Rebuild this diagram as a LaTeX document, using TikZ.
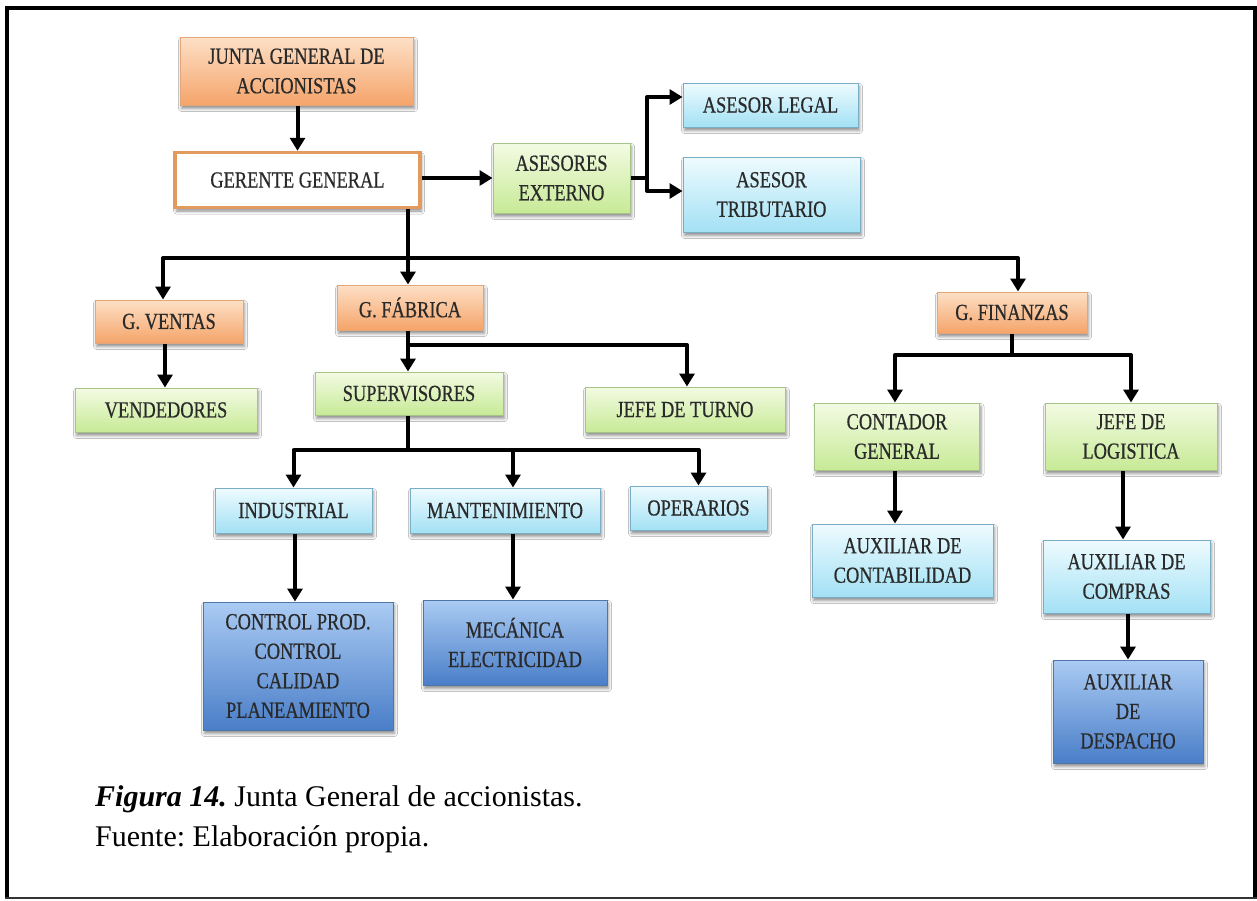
\documentclass[tikz,border=0pt]{standalone}
\usepackage{fontspec}
\setmainfont{Liberation Serif}
\newfontfamily\boxfont[FakeStretch=0.8,FakeBold=0.5]{Liberation Serif}
\usetikzlibrary{arrows.meta,shadows.blur}
\definecolor{orT}{HTML}{FDE0C6}
\definecolor{orB}{HTML}{F5A46A}
\definecolor{orD}{HTML}{E3A57A}
\definecolor{grT}{HTML}{F3FBE3}
\definecolor{grB}{HTML}{C7EA96}
\definecolor{grD}{HTML}{A7C488}
\definecolor{lbT}{HTML}{EEFBFF}
\definecolor{lbB}{HTML}{A3E1F4}
\definecolor{lbD}{HTML}{7AAEC6}
\definecolor{dbT}{HTML}{AACBF3}
\definecolor{dbB}{HTML}{4A7EC8}
\definecolor{dbD}{HTML}{4E76A6}
\definecolor{gerD}{HTML}{E29B5E}
\definecolor{txt}{HTML}{2A2A2A}
\newcommand{\bxfont}{\boxfont\fontsize{23}{29.5}\selectfont}
\newcommand{\capfont}{\fontsize{30}{40}\selectfont\frenchspacing}
\tikzset{
  box/.style={draw, line width=1pt, inner sep=0pt, align=center, font=\bxfont, text=txt,
    blur shadow={shadow xshift=1.5pt, shadow yshift=-3.5pt, shadow blur radius=3pt, shadow opacity=45}},
  obox/.style={box, draw=orD, top color=orT, bottom color=orB},
  gbox/.style={box, draw=grD, top color=grT, bottom color=grB},
  lbox/.style={box, draw=lbD, top color=lbT, bottom color=lbB},
  dbox/.style={box, draw=dbD, top color=dbT, bottom color=dbB},
  wbox/.style={box, draw=gerD, line width=3.5pt, fill=white},
  ln/.style={line width=4pt, black, line join=round},
  arr/.style={ln, -{Triangle[width=15pt,length=13pt]}},
  captext/.style={anchor=base west, inner sep=0pt, font=\capfont}
}
\begin{document}
\begin{tikzpicture}[x=1pt,y=-1pt]
\useasboundingbox (0,0) rectangle (1257,900);
\fill[white] (0,0) rectangle (1257,900);
% frame
\draw[line width=4pt] (7,898) -- (7,7.5) -- (1254.5,7.5) -- (1254.5,898);
\draw[line width=2pt, black!80] (5,898) -- (1257,898);

% nodes
\node[obox, minimum width=233, minimum height=68] (junta) at (296.5,71) {JUNTA GENERAL DE\\ACCIONISTAS};
\node[wbox, minimum width=245, minimum height=55] (gerente) at (297.5,180) {GERENTE GENERAL};
\node[gbox, minimum width=137, minimum height=70] (asesores) at (561.5,178) {ASESORES\\EXTERNO};
\node[lbox, minimum width=175, minimum height=44] (legal) at (770.5,105) {ASESOR LEGAL};
\node[lbox, minimum width=177, minimum height=75] (tribut) at (771.5,194.5) {ASESOR\\TRIBUTARIO};

\node[obox, minimum width=148, minimum height=43] (gventas) at (169,321.5) {G. VENTAS};
\node[obox, minimum width=146, minimum height=45] (gfabrica) at (410,307.5) {G. FÁBRICA};
\node[obox, minimum width=150, minimum height=41] (gfinanzas) at (1012,312.5) {G. FINANZAS};

\node[gbox, minimum width=182, minimum height=44] (vendedores) at (166,410) {VENDEDORES};
\node[gbox, minimum width=188, minimum height=43] (supervisores) at (409,393.5) {SUPERVISORES};
\node[gbox, minimum width=200, minimum height=45] (jefeturno) at (685,409.5) {JEFE DE TURNO};

\node[lbox, minimum width=157, minimum height=45] (industrial) at (293.5,510.5) {INDUSTRIAL};
\node[lbox, minimum width=190, minimum height=45] (manten) at (505,510.5) {MANTENIMIENTO};
\node[lbox, minimum width=137, minimum height=44] (operarios) at (698.5,508) {OPERARIOS};

\node[dbox, minimum width=190, minimum height=128] (control) at (298,666) {CONTROL PROD.\\CONTROL\\CALIDAD\\PLANEAMIENTO};
\node[dbox, minimum width=184, minimum height=85] (mecanica) at (515,642.5) {MECÁNICA\\ELECTRICIDAD};

\node[gbox, minimum width=165, minimum height=67] (contador) at (897,436.5) {CONTADOR\\GENERAL};
\node[gbox, minimum width=172, minimum height=67] (jefelog) at (1131,436.5) {JEFE DE\\LOGISTICA};
\node[lbox, minimum width=181, minimum height=73] (auxcont) at (902.5,560.5) {AUXILIAR DE\\CONTABILIDAD};
\node[lbox, minimum width=167, minimum height=73] (auxcomp) at (1126.5,576.5) {AUXILIAR DE\\COMPRAS};
\node[dbox, minimum width=150, minimum height=103] (auxdesp) at (1128,711.5) {AUXILIAR\\DE\\DESPACHO};

% junction coordinates
\coordinate (bus) at (408,258);
\coordinate (fab) at (408,345);
\coordinate (sup) at (408,450);
\coordinate (fin) at (1012,355);
\coordinate (ase) at (647,178);
\coordinate (ind) at ([xshift=1.5]industrial.south);
\coordinate (man) at ([xshift=8]manten.south);
\coordinate (con) at ([xshift=-2]contador.south);
\coordinate (jlg) at ([xshift=-8]jefelog.south);
\coordinate (acp) at ([xshift=1.5]auxcomp.south);

% connectors
\draw[arr] (junta.south -| gerente.north) -- (gerente.north);
\draw[arr] (gerente.east |- asesores.west) -- (asesores.west);
\draw[ln] (asesores.east) -- (ase);
\draw[arr] (ase) |- ([yshift=8]legal.west);
\draw[arr] (ase) |- ([yshift=3.5]tribut.west);

\draw[ln] (gerente.south -| bus) -- (bus);
\draw[arr] (bus) -| ([xshift=-6]gventas.north);
\draw[arr] (bus) -| ([xshift=6]gfinanzas.north);
\draw[arr] (bus) -- (gfabrica.north -| bus);

\draw[arr] ([xshift=-4]gventas.south) -- ([xshift=-1]vendedores.north);
\draw[arr] (gfabrica.south -| fab) -- (supervisores.north -| fab);
\draw[arr] (fab) -| ([xshift=2]jefeturno.north);

\draw[ln] (supervisores.south -| sup) -- (sup);
\draw[arr] (sup) -| (industrial.north);
\draw[arr] (sup) -| ([xshift=8]manten.north);
\draw[arr] (sup) -| (operarios.north);

\draw[arr] (ind) -- (ind |- control.north);
\draw[arr] (man) -- (man |- mecanica.north);

\draw[ln] (gfinanzas.south) -- (fin);
\draw[arr] (fin) -| ([xshift=-2]contador.north);
\draw[arr] (fin) -| (jefelog.north);
\draw[arr] (con) -- (con |- auxcont.north);
\draw[arr] (jlg) -- (jlg |- auxcomp.north);
\draw[arr] (acp) -- (acp |- auxdesp.north);

% caption
\node[captext] (cap1) at (95,806) {\textbf{\textit{Figura 14.}} Junta General de accionistas.};
\node[captext] (cap2) at (95,846) {Fuente: Elaboración propia.};
\end{tikzpicture}
\end{document}
